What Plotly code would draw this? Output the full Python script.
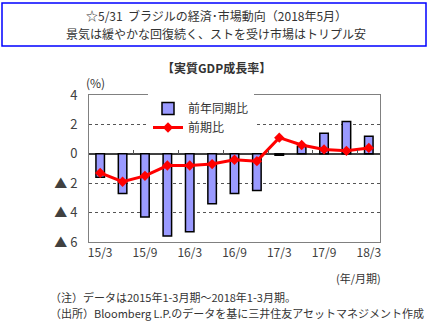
import plotly.graph_objects as go

categories = ["15/3","15/6","15/9","15/12","16/3","16/6","16/9","16/12","17/3","17/6","17/9","17/12","18/3"]
yoy = [-1.6, -2.7, -4.3, -5.6, -5.3, -3.4, -2.7, -2.5, -0.1, 0.5, 1.4, 2.2, 1.2]
qoq = [-1.3, -1.9, -1.5, -0.8, -0.8, -0.7, -0.4, -0.5, 1.1, 0.6, 0.3, 0.2, 0.4]
tick_idx = [0, 2, 4, 6, 8, 10, 12]
ytick_vals = [-6, -4, -2, 0, 2, 4]
ytick_text = ["▲ 6", "▲ 4", "▲ 2", "0", "2", "4"]

W, H = 432, 322
L, R, T, B = 89, 380, 95, 242
FONT = "Noto Sans CJK JP"
TXT = "#333333"

def px(x):
    return (x - L) / (R - L)

def py(y):
    return (B - y) / (B - T)

x = list(range(len(categories)))

fig = go.Figure()
fig.add_trace(go.Bar(
    x=x, y=yoy, name="前年同期比", width=0.38,
    marker=dict(color="#9a9aff", line=dict(color="#000000", width=1.5)),
))
fig.add_trace(go.Scatter(
    x=x, y=qoq, name="前期比", mode="lines+markers",
    line=dict(color="#ff0000", width=3),
    marker=dict(symbol="diamond", size=8, color="#ff0000"),
))
# hidden trace for boundary ticks on zero line
fig.add_trace(go.Scatter(x=[0], y=[0], xaxis="x2", showlegend=False,
                         mode="markers", marker=dict(opacity=0), hoverinfo="skip"))

fig.update_layout(
    width=W, height=H,
    margin=dict(l=L, r=W - R, t=T, b=H - B),
    paper_bgcolor="white", plot_bgcolor="white",
    font=dict(family=FONT, size=12, color=TXT),
    showlegend=True,
    legend=dict(x=px(148), y=py(94), xanchor="left", yanchor="top",
                bgcolor="white", borderwidth=0, font=dict(size=12, color=TXT),
                tracegroupgap=0, itemwidth=30),
    xaxis=dict(range=[-0.5, 12.5], tickvals=[x[i] for i in tick_idx],
               ticktext=[categories[i] for i in tick_idx],
               showgrid=False, zeroline=False, showline=True, mirror=True,
               linecolor="#808080", linewidth=1, ticks="",
               tickfont=dict(size=12, color="#404040")),
    xaxis2=dict(range=[-0.5, 12.5], overlaying="x", anchor="free", position=py(154),
                side="top", tickvals=[1.5, 3.5, 5.5, 7.5, 9.5, 11.5], ticks="outside",
                ticklen=4, tickcolor="#555555", showticklabels=False,
                showgrid=False, zeroline=False, showline=False),
    yaxis=dict(range=[-6, 4], tickvals=ytick_vals, ticktext=ytick_text,
               showgrid=True, gridcolor="#555555", griddash="dot", gridwidth=1,
               zeroline=True, zerolinecolor="#404040", zerolinewidth=1.5,
               showline=True, mirror=True, linecolor="#808080", linewidth=1,
               ticks="", ticklabelstandoff=8,
               tickfont=dict(size=13, color="#404040")),
    bargap=0.6,
)

fig.add_shape(type="rect", xref="paper", yref="paper",
              x0=px(2), x1=px(426), y0=py(46), y1=py(3),
              line=dict(color="#0000ff", width=1.5))

ann = [
    (216, 15, "☆5/31  ブラジルの経済･市場動向（2018年5月）", 12, "center", False),
    (216, 33, "景気は緩やかな回復続く、ストを受け市場はトリプル安", 12, "center", False),
    (216, 67, "【実質GDP成長率】", 12, "center", True),
    (95, 83, "(%)", 12, "center", False),
    (358, 278, "(年/月期)", 11, "center", False),
    (48, 297, "（注）データは2015年1-3月期～2018年1-3月期。", 11, "left", False),
    (48, 313, "（出所）Bloomberg L.P.のデータを基に三井住友アセットマネジメント作成", 11, "left", False),
]
for (ax, ay, t, s, al, bold) in ann:
    fig.add_annotation(x=px(ax), y=py(ay), xref="paper", yref="paper",
                       text=f"<b>{t}</b>" if bold else t, showarrow=False,
                       xanchor=al, yanchor="middle",
                       font=dict(size=s, color=TXT, family=FONT))

fig.write_html("out.html")
